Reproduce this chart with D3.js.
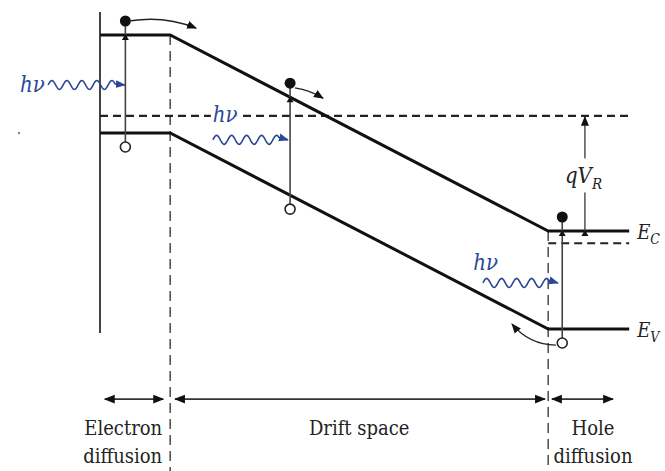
<!DOCTYPE html>
<html>
<head>
<meta charset="utf-8">
<script src="https://cdn.jsdelivr.net/npm/d3@7"></script>
<style>
body { margin: 0; background: #fff; }
svg text { font-family: "DejaVu Serif Condensed", "DejaVu Serif", "Liberation Serif", serif; fill: #222; }
</style>
</head>
<body>
<div id="chart"></div>
<script>
// band edges as [position, energy] corners
const conductionBand = [[0, 4], [1.3, 4], [8.3, 0], [9.8, 0]];
const valenceBand = [[0, 2], [1.3, 2], [8.3, -2], [9.8, -2]];
const fermiLevel = { energy: 2.35, from: 0, to: 9.85 };
const quasiLevel = { energy: -0.25, from: 8.3, to: 9.8 };
const wallSpan = [4.47, -2.08];
const regionEdges = [1.3, 8.3];
const regionNames = [["Electron", "diffusion"], ["Drift space"], ["Hole", "diffusion"]];
const regionSpans = [[0.09, 1.17], [1.39, 8.24], [8.37, 9.5]];
const regionLabelAt = [1.17, 4.8, 9.13];
const regionAnchor = ["end", "middle", "middle"];
const regionRow = -3.43;

// electron-hole pairs made by the photons
const pairX = [0.47, 3.52, 8.56];
const photonWave = [[-0.96, 0.46, 2.98], [2.09, 3.48, 1.86], [7.09, 8.48, -1.06]];
const photonLabel = [[-1.48, 2.84], [2.09, 2.22], [6.91, -0.8]];
// carrier motion: [x0, E0, x1, E1, bend]
const motions = [
    [0.57, 4.29, 1.78, 4.14, -9],
    [3.61, 2.92, 4.13, 2.71, -3],
    [8.44, -2.33, 7.63, -1.9, -11]
];
const biasX = 8.98;

const width = 665, height = 471;
const x = d3.scaleLinear().domain([0, 10]).range([100, 640]);
const y = d3.scaleLinear().domain([0, 4]).range([231, 35]);
const blue = "#2a4896";

const svg = d3.select("#chart").append("svg")
    .attr("width", width)
    .attr("height", height);

const defs = svg.append("defs");
function marker(id, color, size) {
    defs.append("marker")
        .attr("id", id)
        .attr("viewBox", "0 0 10 10")
        .attr("refX", 9).attr("refY", 5)
        .attr("markerUnits", "userSpaceOnUse")
        .attr("markerWidth", size).attr("markerHeight", size)
        .attr("orient", "auto-start-reverse")
        .append("path")
        .attr("d", "M0,1 L10,5 L0,9 Z")
        .attr("fill", color);
}
marker("head", "#111", 11);
marker("headSmall", "#111", 10);
marker("headBlue", blue, 10);

const line = d3.line().x(d => x(d[0])).y(d => y(d[1]));

// left contact wall
svg.append("line")
    .attr("x1", x(0)).attr("x2", x(0))
    .attr("y1", y(wallSpan[0])).attr("y2", y(wallSpan[1]))
    .attr("stroke", "#444").attr("stroke-width", 2);

// region boundaries
regionEdges.forEach(e => {
    const top = conductionBand.find(d => d[0] === e)[1];
    svg.append("line")
        .attr("x1", x(e)).attr("x2", x(e))
        .attr("y1", y(top)).attr("y2", height)
        .attr("stroke", "#555").attr("stroke-width", 1.6)
        .attr("stroke-dasharray", "10,6");
});

// Fermi level and quasi level
[fermiLevel, quasiLevel].forEach(l => {
    svg.append("line")
        .attr("x1", x(l.from)).attr("x2", x(l.to))
        .attr("y1", y(l.energy)).attr("y2", y(l.energy))
        .attr("stroke", "#222").attr("stroke-width", 2.2)
        .attr("stroke-dasharray", "8,5");
});

// bands
[conductionBand, valenceBand].forEach(b => {
    svg.append("path")
        .attr("d", line(b))
        .attr("fill", "none")
        .attr("stroke", "#111")
        .attr("stroke-width", 3);
});

function bandAt(band, px) {
    for (let i = 0; i < band.length - 1; i++) {
        const [x0, e0] = band[i], [x1, e1] = band[i + 1];
        if (px >= x0 && px <= x1) return e0 + (e1 - e0) * (px - x0) / (x1 - x0);
    }
    return band[band.length - 1][1];
}

// photon waves
function wavePath(x0, x1, yy) {
    const p = d3.path();
    const end = x1 - 9;
    p.moveTo(x0, yy);
    for (let t = x0; t <= end; t += 1) {
        p.lineTo(t, yy - 4.5 * Math.sin((t - x0) / 15 * 2 * Math.PI));
    }
    p.lineTo(x1, yy);
    return p.toString();
}
photonWave.forEach((w, i) => {
    svg.append("path")
        .attr("d", wavePath(x(w[0]), x(w[1]), y(w[2])))
        .attr("fill", "none")
        .attr("stroke", blue)
        .attr("stroke-width", 1.6)
        .attr("marker-end", "url(#headBlue)");
    const lx = x(photonLabel[i][0]), ly = y(photonLabel[i][1]);
    svg.append("rect")
        .attr("x", lx - 2).attr("y", ly - 17)
        .attr("width", 27).attr("height", 21)
        .attr("fill", "#fff");
    svg.append("text")
        .attr("x", lx)
        .attr("y", ly)
        .attr("font-size", 22)
        .attr("font-style", "italic")
        .style("fill", blue)
        .text("hν");
});

// electron-hole pairs
pairX.forEach(px => {
    const ec = y(bandAt(conductionBand, px));
    const ev = y(bandAt(valenceBand, px));
    const ye = ec - 14, yh = ev + 14;
    svg.append("line")
        .attr("x1", x(px)).attr("x2", x(px))
        .attr("y1", ye).attr("y2", yh - 5)
        .attr("stroke", "#444").attr("stroke-width", 1.6);
    svg.append("path")
        .attr("d", `M${x(px) - 3.5},${ec + 5} L${x(px)},${ec - 1} L${x(px) + 3.5},${ec + 5} Z`)
        .attr("fill", "#111");
    svg.append("circle")
        .attr("cx", x(px)).attr("cy", ye).attr("r", 5.5)
        .attr("fill", "#111");
    svg.append("circle")
        .attr("cx", x(px)).attr("cy", yh).attr("r", 5)
        .attr("fill", "#fff").attr("stroke", "#222").attr("stroke-width", 1.6);
});

// carrier motion arrows
motions.forEach(m => {
    const x0 = x(m[0]), y0 = y(m[1]), x1 = x(m[2]), y1 = y(m[3]);
    const len = Math.hypot(x1 - x0, y1 - y0);
    const cx = (x0 + x1) / 2 - (y1 - y0) / len * m[4];
    const cy = (y0 + y1) / 2 + (x1 - x0) / len * m[4];
    const p = d3.path();
    p.moveTo(x0, y0);
    p.quadraticCurveTo(cx, cy, x1, y1);
    svg.append("path")
        .attr("d", p.toString())
        .attr("fill", "none")
        .attr("stroke", "#222").attr("stroke-width", 1.4)
        .attr("marker-end", "url(#headSmall)");
});

// reverse bias qV_R
const biasTop = y(fermiLevel.energy), biasBottom = y(0);
svg.append("line")
    .attr("x1", x(biasX)).attr("x2", x(biasX))
    .attr("y1", biasBottom).attr("y2", biasTop + 1)
    .attr("stroke", "#444").attr("stroke-width", 1.4)
    .attr("marker-end", "url(#headSmall)");
svg.append("path")
    .attr("d", `M${x(biasX) - 3.5},${biasBottom + 5} L${x(biasX)},${biasBottom - 1} L${x(biasX) + 3.5},${biasBottom + 5} Z`)
    .attr("fill", "#111");
const biasMid = (biasTop + biasBottom) / 2;
svg.append("rect")
    .attr("x", x(biasX) - 22).attr("y", biasMid - 15)
    .attr("width", 42).attr("height", 34)
    .attr("fill", "#fff");
const qv = svg.append("text")
    .attr("x", x(biasX) - 20).attr("y", biasMid + 10)
    .attr("font-size", 22)
    .attr("font-style", "italic");
qv.append("tspan").text("qV");
qv.append("tspan").attr("font-size", 15).attr("dy", 6).text("R");

// band labels
[["E", "C", conductionBand], ["E", "V", valenceBand]].forEach(([main, sub, band]) => {
    const last = band[band.length - 1];
    const t = svg.append("text")
        .attr("x", x(last[0]) + 8)
        .attr("y", y(last[1]) + 8)
        .attr("font-size", 20)
        .attr("font-style", "italic");
    t.append("tspan").text(main);
    t.append("tspan").attr("font-size", 14).attr("dy", 5).text(sub);
});

// region arrows and names
regionSpans.forEach((s, i) => {
    svg.append("line")
        .attr("x1", x(s[0])).attr("x2", x(s[1]))
        .attr("y1", y(regionRow)).attr("y2", y(regionRow))
        .attr("stroke", "#333").attr("stroke-width", 1.8)
        .attr("marker-start", "url(#head)")
        .attr("marker-end", "url(#head)");
    const t = svg.append("text")
        .attr("text-anchor", regionAnchor[i])
        .attr("font-size", 20);
    regionNames[i].forEach((n, j) => {
        t.append("tspan")
            .attr("x", x(regionLabelAt[i]) + (i === 0 ? -1 : 0))
            .attr("y", y(regionRow) + 36 + j * 28)
            .text(n);
    });
});

// stray speck in the original scan
svg.append("circle")
    .attr("cx", 19).attr("cy", 133).attr("r", 1.2)
    .attr("fill", "#888");
</script>
</body>
</html>
